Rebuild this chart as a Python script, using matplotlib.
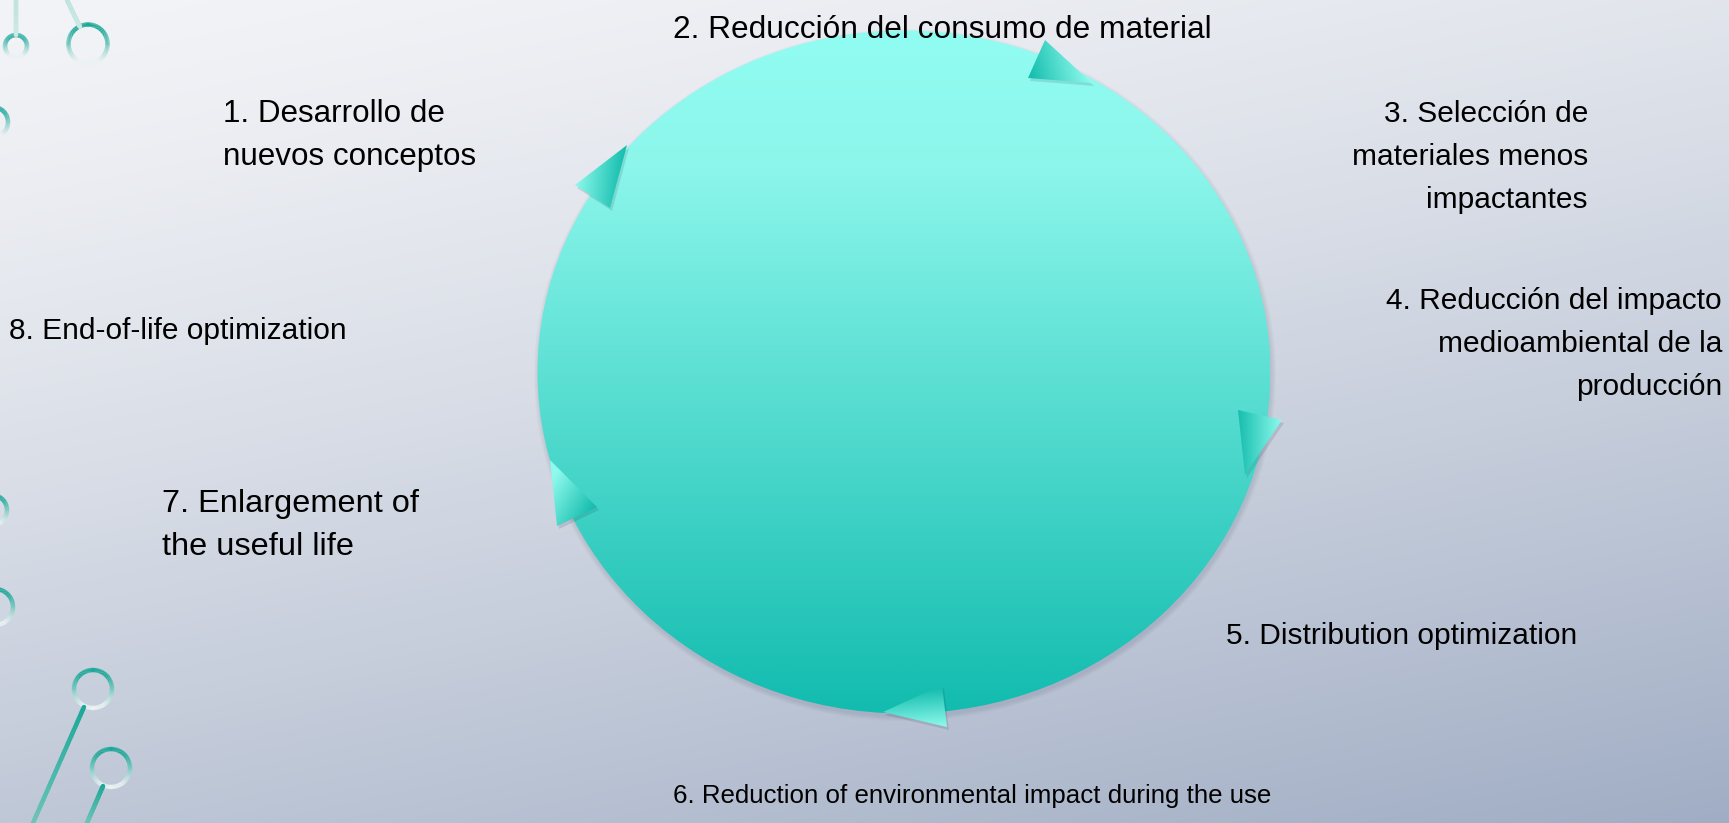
import numpy as np
import matplotlib
matplotlib.use("Agg")
import matplotlib.pyplot as plt
from matplotlib.patches import Ellipse, Polygon
from matplotlib.collections import LineCollection
from matplotlib.colors import LinearSegmentedColormap

# ---------------- content ----------------
steps = [
    ["1. Desarrollo de", "nuevos conceptos"],
    ["2. Reducción del consumo de material"],
    ["3. Selección de", "materiales menos", "impactantes"],
    ["4. Reducción del impacto", "medioambiental de la", "producción"],
    ["5. Distribution optimization"],
    ["6. Reduction of environmental impact during the use"],
    ["7. Enlargement of", "the useful life"],
    ["8. End-of-life optimization"],
]

# ---------------- layout (pixels, y downward) ----------------
W, H = 1729, 823
label_anchor = [  # x, first-line y (centre), alignment, font size (pt)
    (223, 114, "left", 22.6),
    (673, 30, "left", 22.8),
    (1588, 114, "right", 21.5),
    (1722, 301, "right", 21.5),
    (1226, 636, "left", 21.5),
    (673, 796, "left", 18.6),
    (162, 504, "left", 23.4),
    (9, 331, "left", 21.5),
]
line_gap = 43
ellipse_center = (904, 372)
ellipse_size = (733, 683)
arrows = [  # vertices, gradient start (light), gradient end (teal)
    ([(627, 145), (575, 185), (610, 208)], (575, 180), (622, 185)),
    ([(1045, 40), (1028, 78), (1092, 83)], (1085, 60), (1030, 75)),
    ([(1238, 410), (1282, 420), (1245, 475)], (1282, 420), (1238, 420)),
    ([(883, 712), (942, 685), (947, 727)], (945, 727), (942, 688)),
    ([(550, 460), (597, 507), (557, 526)], (552, 480), (595, 505)),
]
rings = [  # cx, cy, r
    (16, 46, 11), (88, 44, 19.5), (-7, 122, 15), (-8, 510, 15), (-5, 607, 18),
    (93, 689, 19), (111, 768, 19),
]
stems = [  # start, end, strength
    ((16, 0), (16, 35), 0.25),
    ((67, 0), (80, 27), 0.25),
    ((84, 707), (33, 823), 1.0),
    ((103, 786), (87, 823), 1.0),
]

teal = np.array([22, 190, 175]) / 255
light = np.array([142, 250, 236]) / 255

fig = plt.figure(figsize=(W / 100, H / 100), dpi=100)
ax = fig.add_axes([0, 0, 1, 1])
ax.set_xlim(0, W)
ax.set_ylim(H, 0)
ax.axis("off")

# background gradient
yy, xx = np.mgrid[0:H:2, 0:W:2]
t = np.clip((0.8 * yy / H + 0.35 * xx / W) / 1.15, 0, 1) ** 1.3
c0 = np.array([243, 244, 247]) / 255
c1 = np.array([160, 173, 196]) / 255
bg = c0[None, None, :] * (1 - t[..., None]) + c1[None, None, :] * t[..., None]
ax.imshow(bg, extent=(0, W, H, 0), zorder=0, interpolation="bilinear", aspect="auto")

# shadow of circle
cx, cy = ellipse_center
ew, eh = ellipse_size
for k in range(5):
    ax.add_patch(Ellipse((cx + 1, cy + 3), ew + 1 + 2 * k, eh + 1 + 2 * k,
                         facecolor=(0.2, 0.2, 0.3, 0.025), edgecolor="none", zorder=1))

# circle with vertical gradient
circ = Ellipse((cx, cy), ew, eh, facecolor="none", edgecolor="none", zorder=2)
ax.add_patch(circ)
gy = np.linspace(0, 1, 400)[:, None]
cmap_c = LinearSegmentedColormap.from_list(
    "c", [(0.0, (145/255, 252/255, 241/255)), (0.2, (140/255, 246/255, 235/255)),
          (1.0, (18/255, 188/255, 175/255))])
im = ax.imshow(gy, cmap=cmap_c, extent=(cx - ew / 2, cx + ew / 2, cy + eh / 2, cy - eh / 2),
               aspect="auto", zorder=2, interpolation="bilinear")
im.set_clip_path(circ)

# arrows with gradient
cmap_a = LinearSegmentedColormap.from_list("a", [light, teal])
for verts, p0, p1 in arrows:
    v = np.array(verts, float)
    sh = Polygon(v + np.array([2, 3]), closed=True, facecolor=(0.1, 0.1, 0.2, 0.12),
                 edgecolor="none", zorder=3)
    ax.add_patch(sh)
    poly = Polygon(v, closed=True, facecolor="none", edgecolor="none", zorder=4)
    ax.add_patch(poly)
    x0, y0 = v.min(axis=0) - 2
    x1, y1 = v.max(axis=0) + 2
    gx, gyy = np.meshgrid(np.linspace(x0, x1, 80), np.linspace(y0, y1, 80))
    d = np.array(p1, float) - np.array(p0, float)
    val = ((gx - p0[0]) * d[0] + (gyy - p0[1]) * d[1]) / (d @ d)
    val = np.clip(val, 0, 1)
    im2 = ax.imshow(val, cmap=cmap_a, vmin=0, vmax=1, extent=(x0, x1, y1, y0),
                    aspect="auto", zorder=4, interpolation="bilinear")
    im2.set_clip_path(poly)

# decorative rings
ring_teal = np.array([26, 168, 152]) / 255
ring_white = np.array([235, 243, 243]) / 255
for rx, ry, r in rings:
    th = np.linspace(0, 2 * np.pi, 121)
    px = rx + r * np.cos(th)
    py = ry - r * np.sin(th)
    segs = [[(px[i], py[i]), (px[i + 1], py[i + 1])] for i in range(len(th) - 1)]
    cols = []
    for i in range(len(th) - 1):
        s = (np.sin((th[i] + th[i + 1]) / 2) + 1) / 2
        s = np.clip(s * 1.3 - 0.1, 0, 1)
        cols.append(ring_white * (1 - s) + ring_teal * s)
    ax.add_collection(LineCollection(segs, colors=cols, linewidths=3.2, zorder=5,
                                     capstyle="butt"))

for (sx, sy), (tx, ty), strength in stems:
    n = 40
    xs = np.linspace(sx, tx, n + 1)
    ys = np.linspace(sy, ty, n + 1)
    segs = [[(xs[i], ys[i]), (xs[i + 1], ys[i + 1])] for i in range(n)]
    cols = []
    for i in range(n):
        f = i / n
        if strength < 1:
            base = np.array([190, 228, 222]) / 255
            cols.append(base * (1 - f) + np.array([205, 232, 228]) / 255 * f)
        else:
            cols.append(ring_teal * (1 - f) + np.array([110, 196, 185]) / 255 * f)
    ax.add_collection(LineCollection(segs, colors=cols, linewidths=3.2, zorder=5,
                                     capstyle="round"))

# labels
for lines, (lx, ly, al, fs) in zip(steps, label_anchor):
    for i, s in enumerate(lines):
        ax.text(lx, ly + i * line_gap, s, ha=al, va="center", fontsize=fs,
                family=["Liberation Sans", "DejaVu Sans"], color="black", zorder=6)

fig.savefig("out.png", dpi=100)
